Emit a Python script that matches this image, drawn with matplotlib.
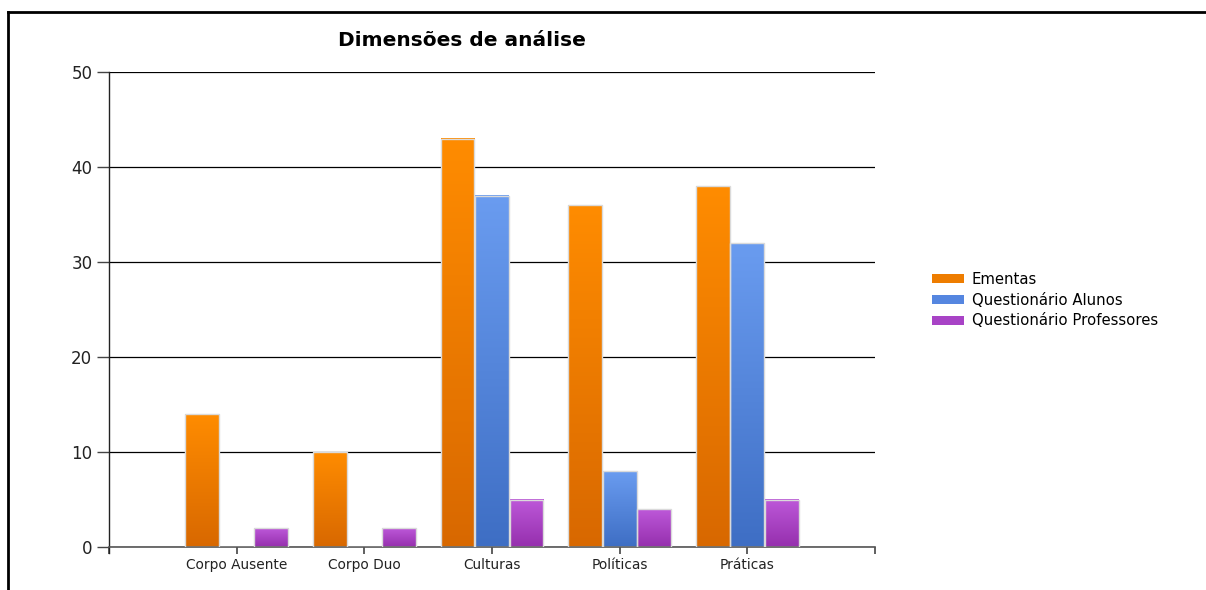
import matplotlib

matplotlib.use("Agg")
import matplotlib.pyplot as plt
import numpy as np
from matplotlib.colors import LinearSegmentedColormap
from matplotlib.lines import Line2D
from matplotlib.patches import Patch

plt.rcParams["font.family"] = ["DejaVu Sans"]

categories = ["Corpo Ausente", "Corpo Duo", "Culturas", "Políticas", "Práticas"]
series_names = ["Ementas", "Questionário Alunos", "Questionário Professores"]
ementas = [14, 10, 43, 36, 38]
alunos = [0, 0, 37, 8, 32]
professores = [2, 2, 5, 4, 5]

# (top colour, bottom colour, legend colour) for the vertical gradient in each series
gradients = [
    ("#ff8c00", "#d86800", "#ee7d00"),
    ("#6a9cf0", "#3e6ec4", "#5586e0"),
    ("#bd58d9", "#952fad", "#a843c6"),
]

fig = plt.figure(figsize=(12.06, 5.9), dpi=100)
ax = fig.add_axes([109 / 1206, 1 - 547 / 590, (875 - 109) / 1206, (547 - 72) / 590])

x = np.arange(1, len(categories) + 1)
width = 0.265
offsets = [-0.27, 0.0, 0.27]
grad = np.linspace(1, 0, 256).reshape(-1, 1)

for values, off, (top, bottom, _) in zip([ementas, alunos, professores], offsets, gradients):
    cmap = LinearSegmentedColormap.from_list("g", [bottom, top])
    bars = ax.bar(x + off, values, width, facecolor="none", edgecolor="#dadada",
                  linewidth=1.0, zorder=3)
    for b, v in zip(bars, values):
        if v <= 0:
            continue
        x0 = b.get_x()
        ax.imshow(grad, cmap=cmap, aspect="auto", extent=[x0, x0 + width, 0, v],
                  interpolation="bilinear", zorder=2)

ax.set_xlim(0, 6)
ax.set_ylim(0, 50)
ax.set_yticks(range(0, 51, 10))
ax.set_xticks(range(0, 7))
ax.set_xticklabels([""] + categories + [""], fontsize=9.9, color="#222222")
ax.tick_params(axis="y", length=9, width=1, color="#444444", labelsize=12,
               labelcolor="#222222", pad=3)
ax.tick_params(axis="x", length=5, width=1.2, color="#444444", pad=3)
ax.grid(axis="y", color="black", linewidth=0.9, zorder=1)
ax.set_axisbelow(True)

for side in ("top", "right"):
    ax.spines[side].set_visible(False)
ax.spines["left"].set_color("#222222")
ax.spines["left"].set_linewidth(1.0)
ax.spines["left"].set_bounds(-0.6, 50)
ax.spines["bottom"].set_color("#555555")
ax.spines["bottom"].set_linewidth(1.2)

fig.text(462 / 1206, 1 - 40 / 590, "Dimensões de análise", ha="center", va="center",
         fontsize=14.5, fontweight="bold")

handles = [Patch(facecolor=c, edgecolor="none") for _, _, c in gradients]
fig.legend(handles, series_names, loc="center left", bbox_to_anchor=(922 / 1206, 1 - 300 / 590),
           frameon=False, fontsize=10.7, handlelength=2.1, handleheight=0.55,
           handletextpad=0.55, labelspacing=0.4, borderpad=0.2)

# frame lines along the top and left edge of the image
fig.add_artist(Line2D([8 / 1206, 1.0], [1 - 12 / 590, 1 - 12 / 590], color="black",
                      linewidth=2, transform=fig.transFigure))
fig.add_artist(Line2D([8 / 1206, 8 / 1206], [0, 1 - 12 / 590], color="black",
                      linewidth=2, transform=fig.transFigure))

fig.savefig("out.png", dpi=100)
